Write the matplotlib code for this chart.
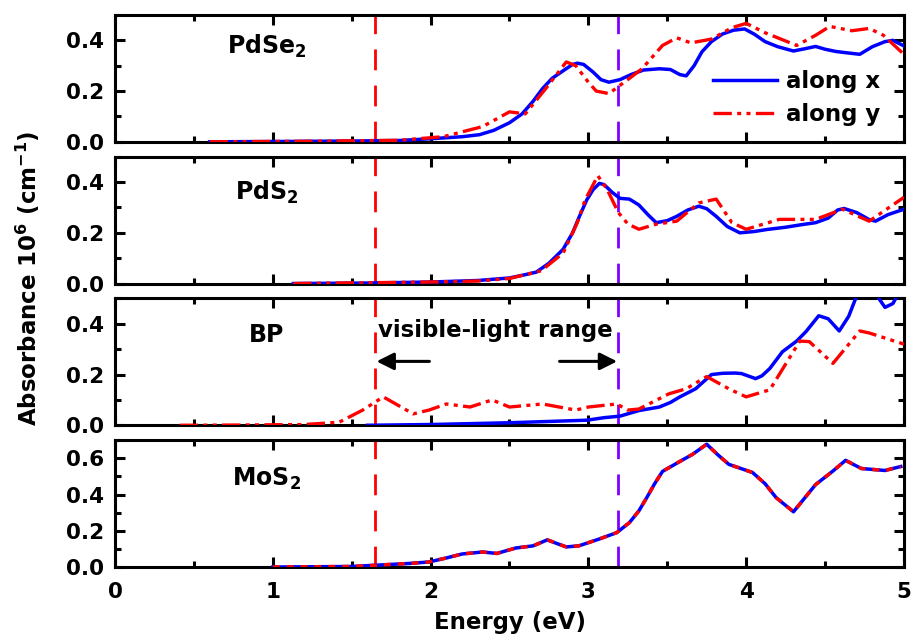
import numpy as np
import matplotlib
matplotlib.use("Agg")
from matplotlib import pyplot as plt
from matplotlib.ticker import MultipleLocator
from matplotlib.transforms import blended_transform_factory

plt.rcParams["font.family"] = "DejaVu Sans"
plt.rcParams["font.weight"] = "bold"
plt.rcParams["mathtext.fontset"] = "dejavusans"
plt.rcParams["mathtext.default"] = "bf"

# absorbance spectra, energy in eV, absorbance in 1e6 cm^-1
pdse2_x_e = [0.6, 1.0, 1.5, 1.8, 2.0, 2.2, 2.31, 2.4, 2.5, 2.58, 2.65, 2.71, 2.77, 2.84, 2.9, 2.93,
             2.97, 3.03, 3.08, 3.13, 3.2, 3.27, 3.35, 3.45, 3.52, 3.58, 3.62, 3.67, 3.72, 3.78,
             3.85, 3.92, 3.99, 4.05, 4.12, 4.2, 4.3, 4.38, 4.44, 4.5, 4.57, 4.65, 4.72, 4.8,
             4.88, 4.93, 5.0]
pdse2_x_a = [0.0, 0.001, 0.003, 0.005, 0.012, 0.02, 0.028, 0.045, 0.075, 0.11, 0.16, 0.21, 0.25,
             0.28, 0.305, 0.31, 0.305, 0.275, 0.245, 0.235, 0.245, 0.265, 0.283, 0.288, 0.285,
             0.265, 0.26, 0.3, 0.355, 0.395, 0.425, 0.44, 0.445, 0.425, 0.395, 0.375, 0.358,
             0.368, 0.376, 0.365, 0.356, 0.35, 0.345, 0.375, 0.395, 0.4, 0.378]
pdse2_y_e = [0.6, 1.2, 1.8, 2.08, 2.33, 2.5, 2.6, 2.73, 2.86, 2.92, 3.0, 3.05, 3.13, 3.26, 3.34,
             3.47, 3.56, 3.65, 3.78, 3.91, 4.0, 4.12, 4.32, 4.44, 4.53, 4.67, 4.78, 4.87, 5.0]
pdse2_y_a = [0.0, 0.002, 0.006, 0.02, 0.06, 0.118, 0.11, 0.21, 0.315, 0.3, 0.235, 0.2, 0.19, 0.25,
             0.288, 0.38, 0.41, 0.39, 0.405, 0.45, 0.467, 0.43, 0.38, 0.42, 0.455, 0.438, 0.447,
             0.42, 0.345]

pds2_x_e = [1.13, 1.6, 2.0, 2.3, 2.5, 2.6, 2.67, 2.75, 2.84, 2.9, 2.94, 2.99, 3.03, 3.07, 3.1,
            3.15, 3.2, 3.26, 3.32, 3.38, 3.43, 3.5, 3.56, 3.63, 3.7, 3.75, 3.81, 3.88, 3.96,
            4.05, 4.13, 4.25, 4.35, 4.44, 4.52, 4.58, 4.62, 4.7, 4.78, 4.82, 4.9, 5.0]
pds2_x_a = [0.0, 0.002, 0.006, 0.012, 0.022, 0.035, 0.045, 0.08, 0.135, 0.2, 0.26, 0.33, 0.37,
            0.395, 0.39, 0.36, 0.336, 0.333, 0.31, 0.27, 0.24, 0.248, 0.265, 0.29, 0.305, 0.295,
            0.265, 0.225, 0.2, 0.205, 0.213, 0.222, 0.232, 0.24, 0.258, 0.29, 0.296, 0.28,
            0.252, 0.246, 0.272, 0.293]
pds2_y_e = [1.13, 2.0, 2.3, 2.5, 2.7, 2.84, 2.93, 2.98, 3.06, 3.12, 3.19, 3.25, 3.32, 3.43, 3.56,
            3.7, 3.81, 3.91, 4.0, 4.21, 4.44, 4.61, 4.78, 5.0]
pds2_y_a = [0.0, 0.006, 0.01, 0.02, 0.05, 0.12, 0.24, 0.33, 0.425, 0.37, 0.28, 0.235, 0.214,
            0.234, 0.246, 0.318, 0.333, 0.24, 0.214, 0.253, 0.253, 0.293, 0.246, 0.34]

bp_x_e = [1.6, 2.0, 2.5, 2.99, 3.1, 3.2, 3.32, 3.45, 3.52, 3.58, 3.68, 3.78, 3.85, 3.93, 3.97,
          4.06, 4.1, 4.15, 4.23, 4.32, 4.38, 4.46, 4.52, 4.59, 4.65, 4.7, 4.76, 4.83, 4.88,
          4.93, 5.0]
bp_x_a = [0.0, 0.003, 0.01, 0.02, 0.03, 0.036, 0.058, 0.072, 0.09, 0.112, 0.144, 0.2, 0.205,
          0.206, 0.204, 0.184, 0.195, 0.224, 0.29, 0.332, 0.37, 0.432, 0.42, 0.372, 0.43, 0.51,
          0.56, 0.51, 0.465, 0.48, 0.56]
bp_y_e = [0.41, 0.8, 1.2, 1.42, 1.57, 1.7, 1.89, 1.99, 2.1, 2.25, 2.39, 2.5, 2.71, 2.92, 3.0,
          3.18, 3.25, 3.32, 3.51, 3.62, 3.75, 3.89, 4.0, 4.15, 4.34, 4.4, 4.55, 4.72, 4.78, 5.0]
bp_y_a = [0.0, 0.001, 0.003, 0.012, 0.06, 0.112, 0.045, 0.06, 0.084, 0.072, 0.1, 0.072, 0.084,
          0.06, 0.072, 0.084, 0.06, 0.064, 0.124, 0.144, 0.192, 0.144, 0.112, 0.14, 0.332,
          0.33, 0.244, 0.372, 0.364, 0.32]

mos2_e = [1.0, 1.5, 1.87, 1.99, 2.1, 2.2, 2.33, 2.42, 2.54, 2.65, 2.74, 2.8, 2.86, 2.94, 3.07,
          3.18, 3.26, 3.32, 3.37, 3.42, 3.47, 3.58, 3.66, 3.75, 3.82, 3.89, 4.04, 4.12, 4.19,
          4.3, 4.37, 4.44, 4.55, 4.63, 4.73, 4.88, 4.98]
mos2_a = [0.0, 0.003, 0.02, 0.028, 0.05, 0.072, 0.083, 0.075, 0.105, 0.117, 0.15, 0.13, 0.111,
          0.117, 0.155, 0.19, 0.245, 0.31, 0.383, 0.46, 0.528, 0.583, 0.622, 0.678, 0.62, 0.567,
          0.522, 0.46, 0.383, 0.305, 0.38, 0.455, 0.53, 0.589, 0.544, 0.533, 0.555]

panels = [
    ("PdSe$_2$", pdse2_x_e, pdse2_x_a, pdse2_y_e, pdse2_y_a, 0.5, 0.695),
    ("PdS$_2$", pds2_x_e, pds2_x_a, pds2_y_e, pds2_y_a, 0.5, 0.66),
    ("BP", bp_x_e, bp_x_a, bp_y_e, bp_y_a, 0.5, 0.66),
    ("MoS$_2$", mos2_e, mos2_a, mos2_e, mos2_a, 0.7, 0.64),
]

# visible range edges (eV)
e_red = 1.65
e_violet = 3.19

blue = "#0000ff"
red = "#ff0000"
dashdotdot = (0, (5.5, 1.6, 1.2, 1.6, 1.2, 1.6))

fig, axes = plt.subplots(4, 1, sharex=True, figsize=(9.14, 6.41), dpi=100)
fig.subplots_adjust(left=0.1258, right=0.989, top=0.9766, bottom=0.1154, hspace=0.118)

for i, (ax, (name, xe, xa, ye, ya, ytop, ylab)) in enumerate(zip(axes, panels)):
    ax.plot(xe, xa, color=blue, lw=2.5, label="along x", zorder=3)
    if i == 3:
        ax.plot(ye, ya, color=red, lw=2.5, ls=(0, (2, 2)), label="along y", zorder=4)
    else:
        ax.plot(ye, ya, color=red, lw=2.4, ls=dashdotdot, label="along y", zorder=4)
    ax.axvline(e_red, color=red, lw=2, ls=(0, (7.5, 5.5)), zorder=2)
    ax.axvline(e_violet, color="#8000ff", lw=2, ls=(0, (7.5, 5.5)), zorder=2)

    ax.set_xlim(0, 5)
    ax.set_ylim(0, ytop)
    ax.xaxis.set_major_locator(MultipleLocator(1))
    ax.xaxis.set_minor_locator(MultipleLocator(0.5))
    ax.yaxis.set_major_locator(MultipleLocator(0.2))
    ax.yaxis.set_minor_locator(MultipleLocator(0.1))
    ax.tick_params(which="both", direction="in", top=True, right=True, width=2.2)
    ax.tick_params(which="major", length=7)
    ax.tick_params(which="minor", length=4.5)
    ax.tick_params(axis="y", labelsize=15.5, pad=8)
    ax.tick_params(axis="x", labelsize=15.5, pad=11)
    ax.yaxis.set_major_formatter(matplotlib.ticker.FormatStrFormatter("%.1f"))
    for s in ax.spines.values():
        s.set_linewidth(2.2)

    trans = blended_transform_factory(ax.transData, ax.transAxes)
    ax.text(0.96, ylab, name, transform=trans, ha="center", va="baseline",
            fontsize=17, fontweight="bold")

axes[0].legend(loc="upper left", bbox_to_anchor=(713 / 914, 1 - 70 / 641),
               bbox_transform=fig.transFigure, frameon=False, fontsize=16.5,
               handlelength=2.8, handletextpad=0.4, labelspacing=0.45,
               borderpad=0, borderaxespad=0)

bp = axes[2]
bp.text(2.41, 0.35, "visible-light range", ha="center", va="baseline",
        fontsize=16.5, fontweight="bold")
bp.annotate("", xy=(1.64, 0.252), xytext=(2.01, 0.252),
            arrowprops=dict(arrowstyle="-|>", color="black", lw=2.2, mutation_scale=26))
bp.annotate("", xy=(3.2, 0.252), xytext=(2.8, 0.252),
            arrowprops=dict(arrowstyle="-|>", color="black", lw=2.2, mutation_scale=26))

fig.text(510 / 914, 1 - 623 / 641, "Energy (eV)", ha="center", va="center",
         fontsize=16.5, fontweight="bold")
fig.text(28 / 914, 1 - 278 / 641, r"Absorbance 10$^6$ (cm$^{-1}$)", rotation=90,
         ha="center", va="center", fontsize=16.5, fontweight="bold")

fig.savefig("out.png", dpi=100)
